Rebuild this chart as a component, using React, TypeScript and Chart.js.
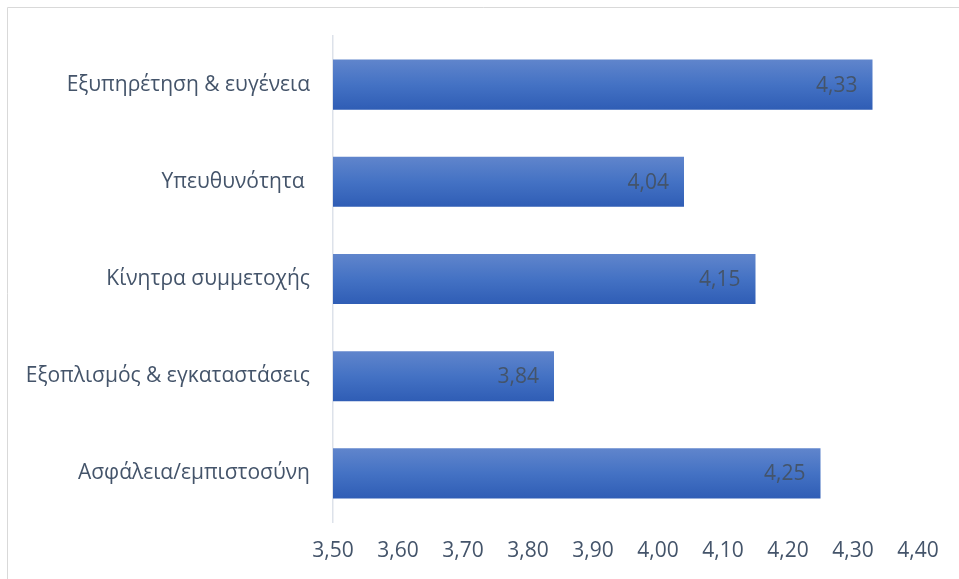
import React, { useEffect, useRef } from "react";
import { Chart, registerables } from "chart.js";

Chart.register(...registerables);

const categories = [
  "Εξυπηρέτηση & ευγένεια",
  "Υπευθυνότητα ",
  "Κίνητρα συμμετοχής",
  "Εξοπλισμός & εγκαταστάσεις",
  "Ασφάλεια/εμπιστοσύνη",
];
const values = [4.33, 4.04, 4.15, 3.84, 4.25];
const axisMin = 3.5;
const axisMax = 4.4;
const axisStep = 0.1;

const FONT = "'Open Sans', 'DejaVu Sans', sans-serif";
const FONT_SIZE = 21;
const TEXT_COLOR = "#44546A";
const BAR_PCT = 0.515;

const fmt = (v: number) => v.toFixed(2).replace(".", ",");

const barFill = (c: any) => {
  const chart = c.chart;
  const ys = chart.scales && chart.scales.y;
  if (!ys || ys.bottom === undefined || c.dataIndex === undefined) return "#4472c4";
  const center = ys.getPixelForValue(c.dataIndex);
  const half = ((ys.bottom - ys.top) / categories.length) * BAR_PCT / 2;
  const g = chart.ctx.createLinearGradient(0, center - half, 0, center + half);
  g.addColorStop(0, "#6085cc");
  g.addColorStop(0.5, "#4472c4");
  g.addColorStop(1, "#2f5db5");
  return g;
};

const labelPlugin = {
  id: "barLabels",
  afterDatasetsDraw(chart: any) {
    const ctx = chart.ctx;
    ctx.save();
    ctx.font = `${FONT_SIZE}px ${FONT}`;
    ctx.fillStyle = TEXT_COLOR;
    ctx.textAlign = "right";
    ctx.textBaseline = "middle";
    chart.getDatasetMeta(0).data.forEach((bar: any, i: number) => {
      ctx.fillText(fmt(values[i]), bar.x - 15, bar.y + 1);
    });
    ctx.restore();
  },
};

const framePlugin = {
  id: "frame",
  beforeDraw(chart: any) {
    const ctx = chart.ctx;
    ctx.save();
    ctx.strokeStyle = "#d9d9d9";
    ctx.lineWidth = 1;
    ctx.beginPath();
    ctx.moveTo(7.5, chart.height);
    ctx.lineTo(7.5, 7.5);
    ctx.lineTo(chart.width, 7.5);
    ctx.stroke();
    ctx.restore();
  },
};

export default function App() {
  const ref = useRef<HTMLCanvasElement>(null);
  useEffect(() => {
    if (!ref.current) return;
    const chart = new Chart(ref.current, {
      type: "bar",
      data: {
        labels: categories,
        datasets: [
          {
            data: values,
            backgroundColor: barFill,
            barPercentage: BAR_PCT,
            categoryPercentage: 1,
          },
        ],
      },
      options: {
        indexAxis: "y",
        responsive: false,
        animation: false,
        layout: { padding: { top: 36, right: 41, bottom: 0, left: 0 } },
        plugins: { legend: { display: false }, tooltip: { enabled: false } },
        scales: {
          x: {
            min: axisMin,
            max: axisMax,
            grid: { display: false, drawTicks: false },
            border: { display: false },
            ticks: {
              stepSize: axisStep,
              padding: 16,
              color: TEXT_COLOR,
              font: { family: FONT, size: FONT_SIZE },
              callback: (v: any) => fmt(Number(v)),
            },
            afterFit: (s: any) => {
              s.height = 57;
            },
          },
          y: {
            grid: { display: false, drawTicks: false },
            border: { display: true, color: "#dde2ea", width: 1.5 },
            ticks: {
              padding: 23,
              color: TEXT_COLOR,
              font: { family: FONT, size: FONT_SIZE },
            },
            afterFit: (s: any) => {
              s.width = 333;
            },
          },
        },
      },
      plugins: [framePlugin, labelPlugin],
    });
    return () => chart.destroy();
  }, []);
  return (
    <div style={{ position: "absolute", left: 0, top: 0, width: 959, height: 579, background: "#fff" }}>
      <canvas ref={ref} width={959} height={579} />
    </div>
  );
}
